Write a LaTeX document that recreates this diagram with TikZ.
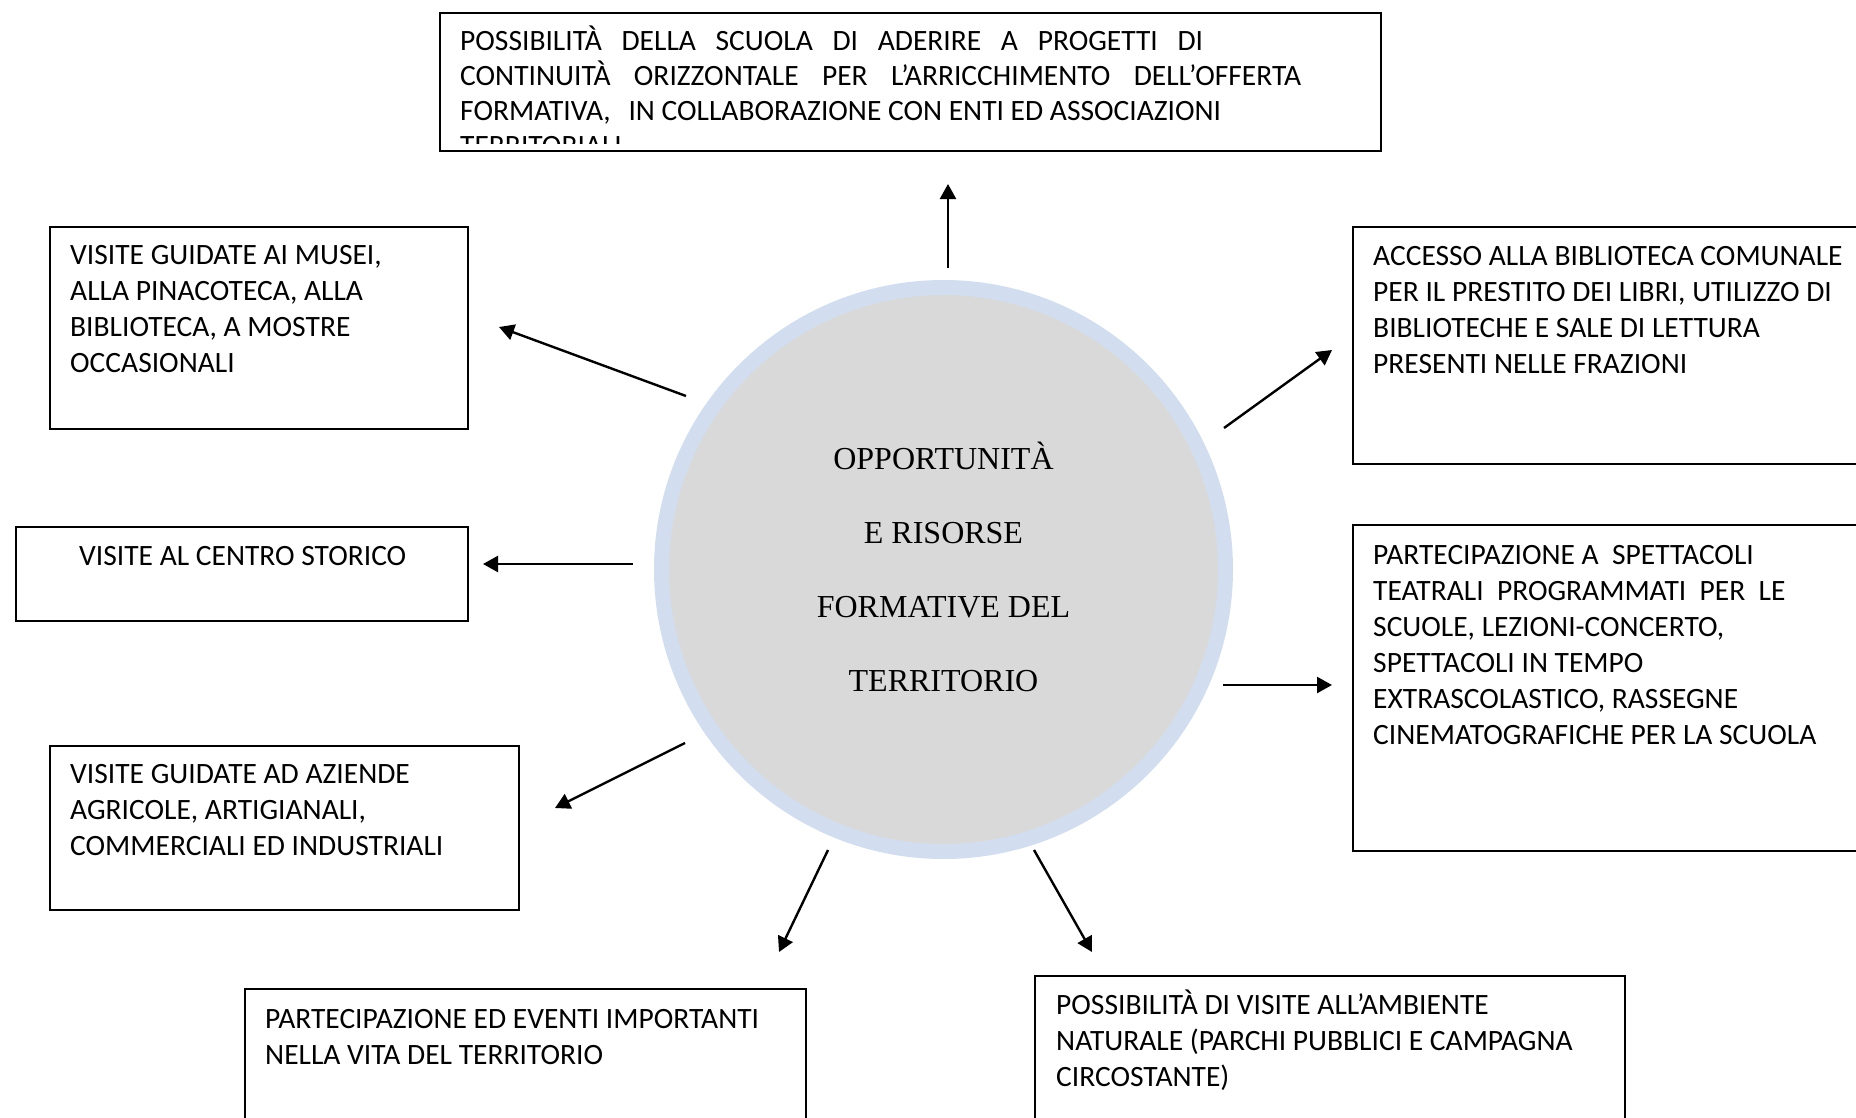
\documentclass[tikz,border=0pt]{standalone}
\usepackage{fontspec}
\setmainfont{Carlito}
\newfontfamily\tnrfont{Liberation Serif}
\usetikzlibrary{arrows.meta}
\definecolor{ringblue}{HTML}{D2DEEF}
\definecolor{discgray}{HTML}{D9D9D9}
\newcommand\firstln{\rule{0pt}{25pt}}
\newcommand\firstlnc{\rule{0pt}{30pt}}
\begin{document}
\begin{tikzpicture}[x=1pt,y=-1pt,
  box/.style={draw=black, line width=1.7pt, rectangle, inner sep=0pt, anchor=north west},
  txt/.style={anchor=north west, inner sep=0pt, align=left, font=\fontsize{29.5}{36}\selectfont},
  ctxt/.style={anchor=north, inner sep=0pt, align=center, font=\tnrfont\fontsize{32}{74}\selectfont},
  arr/.style={-{Triangle[length=15pt,width=16pt]}, line width=2.4pt}]
\useasboundingbox (0,0) rectangle (1856,1117);
\clip (0,0) rectangle (1856,1117);

% central disc
\node[circle, draw=ringblue, line width=15pt, fill=discgray, inner sep=0pt, minimum size=564pt] (disc) at (943.5,569.5) {};
\node[ctxt] (disctxt) at (943.5,439.5) {\firstlnc OPPORTUNITÀ\\ E RISORSE\\ FORMATIVE DEL\\ TERRITORIO};

% boxes
\node[box, minimum width=941pt, minimum height=138pt] (top) at (439,12) {};
\node[box, minimum width=418pt, minimum height=202pt] (musei) at (49,226) {};
\node[box, minimum width=452pt, minimum height=94pt] (centro) at (15,526) {};
\node[box, minimum width=469pt, minimum height=164pt] (aziende) at (49,745) {};
\node[box, minimum width=561pt, minimum height=160pt] (eventi) at (244,988) {};
\node[box, minimum width=590pt, minimum height=170pt] (ambiente) at (1034,975) {};
\node[box, minimum width=540pt, minimum height=237pt] (accesso) at (1352,226) {};
\node[box, minimum width=540pt, minimum height=326pt] (spettacoli) at (1352,524) {};

% texts
\begin{scope}
\clip (439,12) rectangle (1380,143);
\node[txt, font=\fontsize{29.5}{35}\selectfont] (toptxt) at (460,25.7) {\firstln\makebox[743pt][s]{POSSIBILITÀ DELLA SCUOLA DI ADERIRE A PROGETTI DI}\\
\makebox[841pt][s]{CONTINUITÀ ORIZZONTALE PER L’ARRICCHIMENTO DELL’OFFERTA}\\
FORMATIVA,\hspace{11pt} IN COLLABORAZIONE CON ENTI ED ASSOCIAZIONI\\
TERRITORIALI};
\end{scope}
\node[txt] (museitxt) at (70,239) {\firstln VISITE GUIDATE AI MUSEI,\\ ALLA PINACOTECA, ALLA\\ BIBLIOTECA, A MOSTRE\\ OCCASIONALI};
\node[txt] (centrotxt) at (79,540) {\firstln VISITE AL CENTRO STORICO};
\node[txt] (aziendetxt) at (70,758) {\firstln VISITE GUIDATE AD AZIENDE\\ AGRICOLE, ARTIGIANALI,\\ COMMERCIALI ED INDUSTRIALI};
\node[txt] (eventitxt) at (265,1003) {\firstln PARTECIPAZIONE ED EVENTI IMPORTANTI\\ NELLA VITA DEL TERRITORIO};
\node[txt] (ambientetxt) at (1056,989) {\firstln POSSIBILITÀ DI VISITE ALL’AMBIENTE\\ NATURALE (PARCHI PUBBLICI E CAMPAGNA\\ CIRCOSTANTE)};
\node[txt] (accessotxt) at (1373,240) {\firstln ACCESSO ALLA BIBLIOTECA COMUNALE\\ PER IL PRESTITO DEI LIBRI, UTILIZZO DI\\ BIBLIOTECHE E SALE DI LETTURA\\ PRESENTI NELLE FRAZIONI};
\node[txt] (spettacolitxt) at (1373,539) {\firstln PARTECIPAZIONE A\ \ SPETTACOLI\\ TEATRALI\ \ PROGRAMMATI\ \ PER\ \ LE\\ SCUOLE, LEZIONI-CONCERTO,\\ SPETTACOLI IN TEMPO\\ EXTRASCOLASTICO, RASSEGNE\\ CINEMATOGRAFICHE PER LA SCUOLA};

% arrow end points
\coordinate (upS) at (948,268);   \coordinate (upE) at (948,184);
\coordinate (ulS) at (686,396);   \coordinate (ulE) at (499,327);
\coordinate (lS) at (633,564);    \coordinate (lE) at (483,564);
\coordinate (llS) at (685,743);   \coordinate (llE) at (555,808);
\coordinate (blS) at (828,850);   \coordinate (blE) at (779,952);
\coordinate (brS) at (1034,850);  \coordinate (brE) at (1092,952);
\coordinate (rS) at (1223,685);   \coordinate (rE) at (1332,685);
\coordinate (urS) at (1224,428);  \coordinate (urE) at (1332,350);

\draw[arr] (upS) -- (upE);
\draw[arr] (ulS) -- (ulE);
\draw[arr] (lS) -- (lE);
\draw[arr] (llS) -- (llE);
\draw[arr] (blS) -- (blE);
\draw[arr] (brS) -- (brE);
\draw[arr] (rS) -- (rE);
\draw[arr] (urS) -- (urE);
\end{tikzpicture}
\end{document}
